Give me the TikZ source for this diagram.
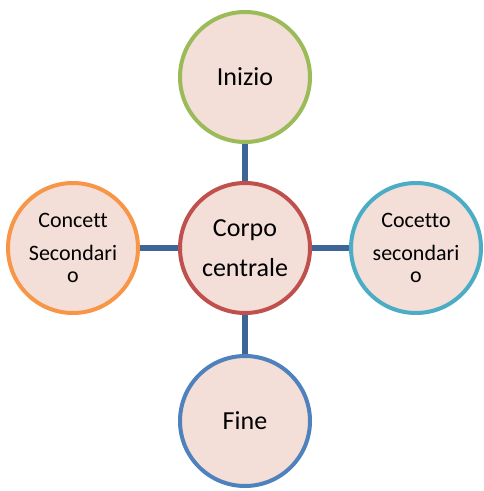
\documentclass[tikz,border=0pt]{standalone}
\usepackage{fontspec}
\setmainfont[Ligatures=NoCommon]{Carlito}
\definecolor{riempi}{HTML}{F4DED8}
\definecolor{linea}{HTML}{3D6597}
\definecolor{verde}{HTML}{9BBB59}
\definecolor{rosso}{HTML}{C0504D}
\definecolor{arancio}{HTML}{F79646}
\definecolor{azzurro}{HTML}{4BACC6}
\definecolor{blu}{HTML}{4F81BD}
\begin{document}
\begin{tikzpicture}[x=1pt,y=-1pt,
    cerchio/.style={circle,draw,line width=4pt,fill=riempi,minimum size=130pt,
                    inner sep=0pt,align=center},
    grande/.style={font=\fontsize{26}{40}\selectfont},
    piccolo/.style={font=\fontsize{22}{33}\selectfont},
    legame/.style={linea,line width=6pt}]
    \useasboundingbox (0,0) rectangle (483,491);
    \node[cerchio,grande,draw=rosso] (centro) at (245,248) {Corpo\\centrale};
    \node[cerchio,grande,draw=verde] (inizio) at (245,77) {Inizio};
    \node[cerchio,grande,draw=blu] (fine) at (245,421) {Fine};
    \node[cerchio,piccolo,draw=arancio] (sinistra) at (73,248) {Concett\\Secondari\\[-11pt]o};
    \node[cerchio,piccolo,draw=azzurro] (destra) at (416,248) {Cocetto\\secondari\\[-11pt]o};
    \draw[legame] (centro) -- (inizio);
    \draw[legame] (centro) -- (fine);
    \draw[legame] (centro) -- (sinistra);
    \draw[legame] (centro) -- (destra);
\end{tikzpicture}
\end{document}
